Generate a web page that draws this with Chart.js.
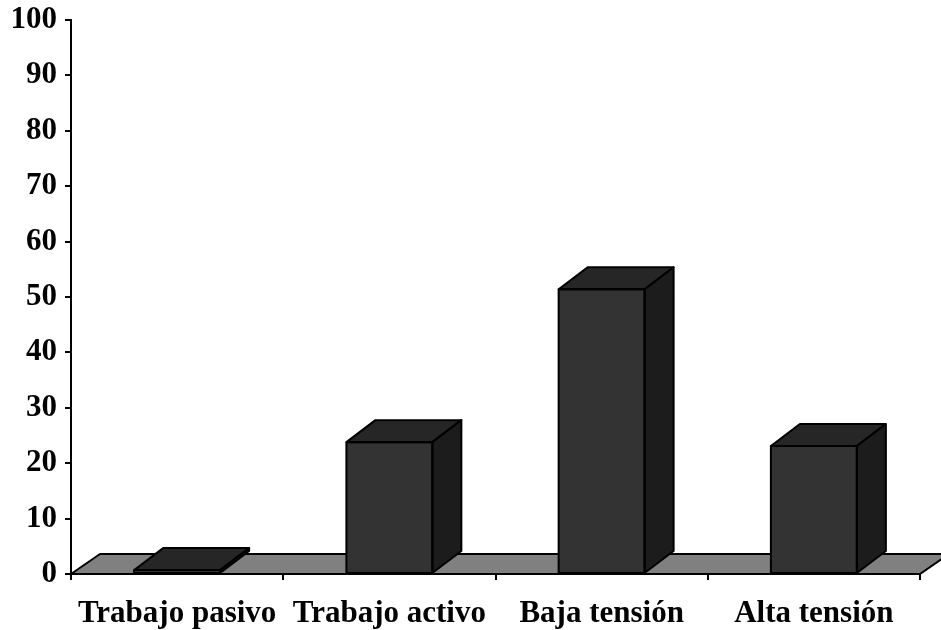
<!DOCTYPE html>
<html>
<head>
<meta charset="utf-8">
<script src="https://cdn.jsdelivr.net/npm/chart.js@4/dist/chart.umd.min.js"></script>
<style>
  html, body { margin: 0; padding: 0; background: #ffffff; }
  #wrap { width: 941px; height: 630px; }
</style>
</head>
<body>
<div id="wrap"><canvas id="c" width="941" height="630"></canvas></div>
<script>
// Categories and percentages
const categories = ['Trabajo pasivo', 'Trabajo activo', 'Baja tensión', 'Alta tensión'];
const values = [0.7, 23.8, 51.4, 23.1];
const yTicks = [0, 10, 20, 30, 40, 50, 60, 70, 80, 90, 100];

const FONT = '"Liberation Serif", "Times New Roman", serif';

// Depth offsets for the pseudo-3D look
const BAR_DX = 29, BAR_DY = 22;
const FLOOR_DX = 29, FLOOR_DY = 20;

function poly(ctx, pts, fill) {
  ctx.beginPath();
  ctx.moveTo(pts[0][0], pts[0][1]);
  for (let i = 1; i < pts.length; i++) ctx.lineTo(pts[i][0], pts[i][1]);
  ctx.closePath();
  ctx.fillStyle = fill;
  ctx.fill();
  ctx.lineWidth = 2;
  ctx.strokeStyle = '#000000';
  ctx.lineJoin = 'round';
  ctx.stroke();
}

const depthPlugin = {
  id: 'depth3d',
  beforeDatasetsDraw(chart) {
    const { ctx, chartArea: a } = chart;
    ctx.save();
    poly(ctx, [
      [a.left, a.bottom], [a.right, a.bottom],
      [a.right + FLOOR_DX, a.bottom - FLOOR_DY], [a.left + FLOOR_DX, a.bottom - FLOOR_DY]
    ], '#808080');
    ctx.restore();
  },
  afterDatasetsDraw(chart) {
    const { ctx } = chart;
    ctx.save();
    chart.getDatasetMeta(0).data.forEach(bar => {
      const p = bar.getProps(['x', 'y', 'base', 'width'], true);
      const l = p.x - p.width / 2, r = p.x + p.width / 2;
      // top face
      poly(ctx, [[l, p.y], [r, p.y], [r + BAR_DX, p.y - BAR_DY], [l + BAR_DX, p.y - BAR_DY]], '#262626');
      // side face
      poly(ctx, [[r, p.y], [r + BAR_DX, p.y - BAR_DY], [r + BAR_DX, p.base - BAR_DY], [r, p.base]], '#1c1c1c');
      // front outline
      ctx.lineWidth = 2;
      ctx.strokeStyle = '#000000';
      ctx.lineJoin = 'round';
      ctx.strokeRect(l, p.y, p.width, p.base - p.y);
    });
    ctx.restore();
  }
};

new Chart(document.getElementById('c'), {
  type: 'bar',
  data: {
    labels: categories,
    datasets: [{
      data: values,
      backgroundColor: '#333333',
      borderColor: '#000000',
      borderWidth: 0,
      categoryPercentage: 1,
      barPercentage: 0.405
    }]
  },
  options: {
    responsive: false,
    animation: false,
    events: [],
    layout: { padding: { top: 20, right: 21, left: 0, bottom: 0 } },
    plugins: { legend: { display: false }, tooltip: { enabled: false } },
    scales: {
      x: {
        grid: { display: true, drawOnChartArea: false, offset: true, tickLength: 6, color: '#000000', lineWidth: 2 },
        border: { display: true, color: '#000000', width: 2 },
        ticks: { color: '#000000', padding: 15, maxRotation: 0, autoSkip: false,
                 font: { family: FONT, size: 31, weight: 'bold' } },
        afterFit(scale) { scale.height = 56; scale.paddingLeft = 0; scale.paddingRight = 0; }
      },
      y: {
        min: 0, max: 100,
        afterBuildTicks(scale) { scale.ticks = yTicks.map(v => ({ value: v })); },
        grid: { display: true, drawOnChartArea: false, tickLength: 6, color: '#000000', lineWidth: 2 },
        border: { display: true, color: '#000000', width: 2 },
        ticks: { color: '#000000', padding: 8,
                 font: { family: FONT, size: 31, weight: 'bold' } },
        afterFit(scale) { scale.width = 71; scale.paddingTop = 0; scale.paddingBottom = 0; }
      }
    }
  },
  plugins: [depthPlugin]
});
</script>
</body>
</html>
